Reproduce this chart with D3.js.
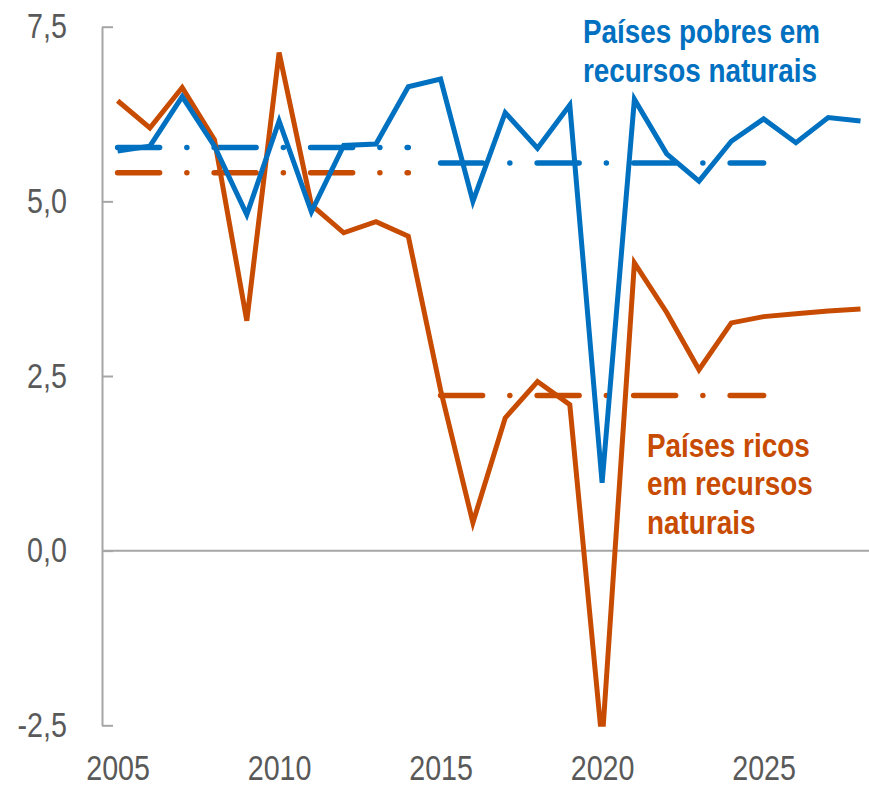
<!DOCTYPE html>
<html>
<head>
<meta charset="utf-8">
<script src="https://cdn.jsdelivr.net/npm/d3@7"></script>
<style>
  body { margin: 0; background: #fff; }
  svg text { font-family: "Liberation Sans Narrow", "Arial Narrow", "Liberation Sans", Arial, sans-serif; }
  .tick text { fill: #595959; font-size: 35px; }
  .lbl { font-size: 34px; font-weight: bold; }
</style>
</head>
<body>
<div id="chart"></div>
<script>
// anos e séries
var anos = d3.range(2005, 2029);
var pobres = [5.72, 5.79, 6.50, 5.79, 4.81, 6.15, 4.85, 5.80, 5.82, 6.64, 6.75, 5.00,
              6.27, 5.76, 6.38, 0.97, 6.46, 5.68, 5.29, 5.86, 6.18, 5.84, 6.20, 6.15];
var ricos  = [6.44, 6.05, 6.63, 5.88, 3.29, 7.13, 4.95, 4.55, 4.71, 4.50, 2.30, 0.40,
              1.90, 2.42, 2.09, -2.75, 4.12, 3.41, 2.59, 3.26, 3.35, 3.39, 3.43, 3.46];
// médias por período
var periodos = [[2005, 2014], [2015, 2025]];
var mediaPobres = [5.77, 5.55];
var mediaRicos = [5.41, 2.22];
var yTicks = [-2.5, 0, 2.5, 5, 7.5];
var xTicks = [2005, 2010, 2015, 2020, 2025];

var azul = "#0070C0", laranja = "#C84B02", cinza = "#A6A6A6";
var estreito = 0.82; // simula Arial Narrow

var W = 869, H = 789;
var svg = d3.select("#chart").append("svg")
    .attr("width", W)
    .attr("height", H);

var x = d3.scaleLinear().domain([2005, 2028]).range([117.6, 860.5]);
var y = d3.scaleLinear().domain([-2.5, 7.5]).range([725.3, 26.7]);

var loc = d3.formatLocale({decimal: ",", thousands: ".", grouping: [3], currency: ["", ""], minus: "-"});
var fmt = loc.format(".1f");

// eixo y
var yax = svg.append("g")
    .attr("transform", "translate(102,0)")
    .call(d3.axisLeft(y).tickValues(yTicks).tickFormat(fmt)
        .tickSizeInner(-11).tickSizeOuter(0).tickPadding(35));
yax.selectAll("path, line").attr("stroke", cinza).attr("stroke-width", 2);
yax.selectAll("text")
    .attr("x", -35 / estreito)
    .attr("transform", "scale(" + estreito + ",1)");

// eixo x (só rótulos)
var xax = svg.append("g")
    .attr("transform", "translate(0,752)")
    .call(d3.axisBottom(x).tickValues(xTicks).tickFormat(d3.format("d"))
        .tickSize(0).tickPadding(3));
xax.select(".domain").remove();
xax.selectAll("text").attr("transform", "scale(" + estreito + ",1)");

// linha do zero
svg.append("line")
    .attr("x1", 102).attr("x2", 869)
    .attr("y1", y(0)).attr("y2", y(0))
    .attr("stroke", cinza).attr("stroke-width", 2);

svg.append("clipPath").attr("id", "area")
  .append("rect")
    .attr("x", 100).attr("y", 0)
    .attr("width", W).attr("height", y(-2.5) + 1.5);

// médias tracejadas
function medias(vals, cor) {
    svg.selectAll(null)
        .data(periodos)
        .enter()
        .append("line")
            .attr("x1", function(d) { return x(d[0]); })
            .attr("x2", function(d) { return x(d[1]); })
            .attr("y1", function(d, i) { return y(vals[i]); })
            .attr("y2", function(d, i) { return y(vals[i]); })
            .attr("stroke", cor)
            .attr("stroke-width", 5.5)
            .attr("stroke-linecap", "round")
            .attr("stroke-dasharray", "42,27.25,0.01,27.25");
}
medias(mediaPobres, azul);
medias(mediaRicos, laranja);

var linha = d3.line()
    .x(function(d, i) { return x(anos[i]); })
    .y(function(d) { return y(d); });

svg.append("path")
    .datum(ricos)
    .attr("clip-path", "url(#area)")
    .attr("d", linha)
    .attr("fill", "none")
    .attr("stroke", laranja)
    .attr("stroke-width", 5);

svg.append("path")
    .datum(pobres)
    .attr("clip-path", "url(#area)")
    .attr("d", linha)
    .attr("fill", "none")
    .attr("stroke", azul)
    .attr("stroke-width", 5);

// rótulos das séries
function rotulo(linhas, cor, px, py, passo) {
    svg.append("text").attr("class", "lbl").attr("fill", cor)
        .attr("transform", "translate(" + px + "," + py + ") scale(" + estreito + ",1)")
        .selectAll("tspan")
        .data(linhas)
        .enter().append("tspan")
            .attr("x", 0)
            .attr("dy", function(d, i) { return i ? passo : 0; })
            .text(function(d) { return d; });
}
rotulo(["Países pobres em", "recursos naturais"], azul, 583, 43, 39);
rotulo(["Países ricos", "em recursos", "naturais"], laranja, 647, 457, 38.5);
</script>
</body>
</html>
